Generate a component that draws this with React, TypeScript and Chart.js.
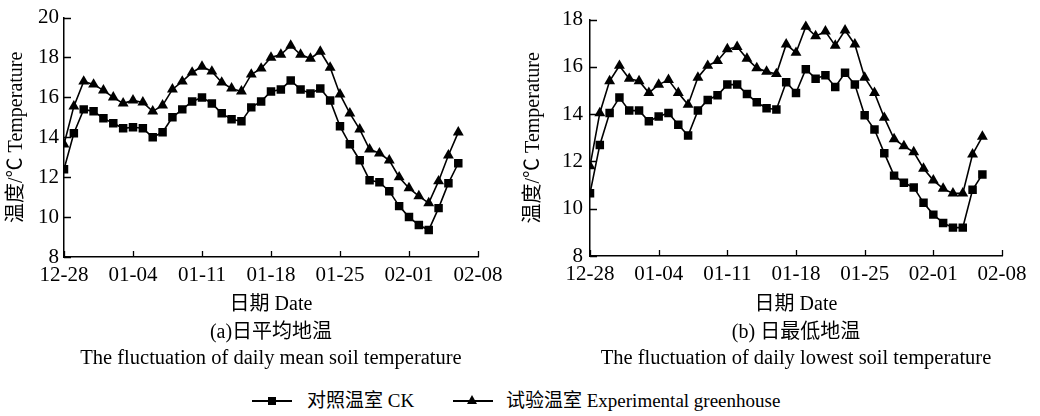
import React, { useEffect, useRef } from "react";
import { Chart, registerables } from "chart.js";

Chart.register(...registerables);

// ---------- data ----------
const DATES = [
  "12-28", "12-29", "12-30", "12-31",
  "01-01", "01-02", "01-03", "01-04", "01-05", "01-06", "01-07", "01-08", "01-09", "01-10",
  "01-11", "01-12", "01-13", "01-14", "01-15", "01-16", "01-17", "01-18", "01-19", "01-20",
  "01-21", "01-22", "01-23", "01-24", "01-25", "01-26", "01-27", "01-28", "01-29", "01-30",
  "01-31", "02-01", "02-02", "02-03", "02-04", "02-05", "02-06",
];
const TICK_LABELS = ["12-28", "01-04", "01-11", "01-18", "01-25", "02-01", "02-08"];

const MEAN_CK = [
  12.4, 14.2, 15.4, 15.3, 14.95, 14.7, 14.45, 14.5, 14.45, 14.0,
  14.25, 15.0, 15.4, 15.8, 16.0, 15.7, 15.2, 14.9, 14.8, 15.5,
  15.8, 16.3, 16.4, 16.85, 16.4, 16.2, 16.45, 15.85, 14.55, 13.65,
  12.85, 11.85, 11.75, 11.3, 10.55, 10.0, 9.6, 9.35, 10.45, 11.7,
  12.7,
];
const MEAN_EXP = [
  13.65, 15.55, 16.8, 16.65, 16.35, 16.0, 15.7, 15.85, 15.75, 15.3,
  15.6, 16.4, 16.8, 17.25, 17.55, 17.3, 16.75, 16.45, 16.3, 17.15,
  17.45, 18.0, 18.15, 18.6, 18.15, 17.95, 18.3, 17.5, 16.15, 15.2,
  14.4, 13.4, 13.2, 12.85, 12.0, 11.45, 11.05, 10.7, 11.8, 13.1,
  14.25,
];
const LOW_CK = [
  10.65, 12.7, 14.05, 14.7, 14.15, 14.15, 13.7, 13.9, 14.05, 13.55,
  13.1, 14.15, 14.6, 14.8, 15.25, 15.25, 14.85, 14.5, 14.25, 14.2,
  15.35, 14.9, 15.9, 15.5, 15.65, 15.15, 15.75, 15.25, 13.95, 13.35,
  12.35, 11.4, 11.1, 10.9, 10.25, 9.75, 9.4, 9.2, 9.2, 10.8,
  11.45,
];
const LOW_EXP = [
  11.8, 14.05, 15.4, 16.05, 15.5, 15.4, 14.9, 15.25, 15.45, 14.9,
  14.4, 15.55, 16.05, 16.25, 16.75, 16.85, 16.35, 15.95, 15.8, 15.7,
  16.95, 16.6, 17.7, 17.3, 17.5, 16.9, 17.55, 16.95, 15.55, 14.9,
  13.85, 12.95, 12.65, 12.4, 11.7, 11.2, 10.85, 10.65, 10.65, 12.3,
  13.05,
];

const SERIES_NAMES = ["对照温室 CK", "试验温室 Experimental greenhouse"];
const Y_TITLE = "温度/℃ Temperature";
const X_TITLE = "日期 Date";
const CAPTION_A = ["(a)日平均地温", "The fluctuation of daily mean soil temperature"];
const CAPTION_B = ["(b) 日最低地温", "The fluctuation of daily lowest soil temperature"];

const FONT = "'Liberation Serif', 'Noto Sans CJK SC', serif";

// ---------- inward tick marks ----------
const inwardTicks = {
  id: "inwardTicks",
  beforeDatasetsDraw(chart: any) {
    const { ctx, chartArea, scales } = chart;
    ctx.save();
    ctx.strokeStyle = "#000";
    ctx.lineWidth = 1.3;
    ctx.beginPath();
    scales.x.ticks.forEach((t: any) => {
      const px = Math.round(scales.x.getPixelForValue(t.value)) + 0.5;
      ctx.moveTo(px, chartArea.bottom);
      ctx.lineTo(px, chartArea.bottom - 6);
    });
    scales.y.ticks.forEach((t: any) => {
      const py = Math.round(scales.y.getPixelForValue(t.value)) + 0.5;
      ctx.moveTo(chartArea.left, py);
      ctx.lineTo(chartArea.left + 7, py);
    });
    ctx.stroke();
    ctx.restore();
  },
};

function makeConfig(
  ck: number[],
  exp: number[],
  yMax: number,
  yWidth: number,
  padRight: number,
  padTop: number,
  yTickPad: number,
  yTitlePad: number,
  xHeight: number
): any {
  const pts = (arr: number[]) => arr.map((v, i) => ({ x: DATES.indexOf(DATES[i]), y: v }));
  return {
    type: "line",
    data: {
      datasets: [
        {
          label: SERIES_NAMES[0],
          data: pts(ck),
          borderColor: "#000",
          backgroundColor: "#000",
          borderWidth: 1.6,
          pointStyle: "rect",
          pointRadius: 6,
          pointBorderWidth: 0,
          pointBackgroundColor: "#000",
          tension: 0,
        },
        {
          label: SERIES_NAMES[1],
          data: pts(exp),
          borderColor: "#000",
          backgroundColor: "#000",
          borderWidth: 1.6,
          pointStyle: "triangle",
          pointRadius: 6.3,
          pointBorderWidth: 0,
          pointBackgroundColor: "#000",
          tension: 0,
        },
      ],
    },
    options: {
      responsive: false,
      animation: false,
      devicePixelRatio: 1,
      layout: { padding: { left: 0, right: padRight, top: padTop, bottom: 0 } },
      plugins: { legend: { display: false }, tooltip: { enabled: false } },
      scales: {
        x: {
          type: "linear",
          min: 0,
          max: 42,
          grid: { display: false, drawTicks: false },
          border: { display: true, color: "#000", width: 1.5 },
          ticks: {
            stepSize: 7,
            autoSkip: false,
            maxRotation: 0,
            padding: 6,
            color: "#000",
            font: { family: FONT, size: 21 },
            callback: (v: number) => TICK_LABELS[Math.round(v / 7)] ?? "",
          },
          title: {
            display: true,
            text: X_TITLE,
            color: "#000",
            font: { family: FONT, size: 20 },
            padding: { top: 0, bottom: 1 },
          },
          afterFit: (s: any) => {
            s.height = xHeight;
          },
        },
        y: {
          min: 8,
          max: yMax,
          grid: { display: false, drawTicks: false },
          border: { display: true, color: "#000", width: 1.5 },
          ticks: {
            stepSize: 2,
            padding: yTickPad,
            color: "#000",
            font: { family: FONT, size: 21 },
          },
          title: {
            display: true,
            text: Y_TITLE,
            color: "#000",
            font: { family: FONT, size: 20 },
            padding: { top: yTitlePad, bottom: 0 },
          },
          afterFit: (s: any) => {
            s.width = yWidth;
          },
        },
      },
    },
    plugins: [inwardTicks],
  };
}

function Panel(props: { left: number; config: any }) {
  const ref = useRef<HTMLCanvasElement | null>(null);
  useEffect(() => {
    if (!ref.current) return;
    const chart = new Chart(ref.current, props.config);
    return () => chart.destroy();
  }, []);
  return (
    <canvas
      ref={ref}
      width={520}
      height={318}
      style={{ position: "absolute", left: props.left, top: 0, width: 520, height: 318, display: "block" }}
    />
  );
}

function TextLine(props: { text: string; cx: number; cy: number; size: number }) {
  return (
    <div
      style={{
        position: "absolute",
        left: props.cx - 300,
        width: 600,
        top: props.cy - 15,
        height: 30,
        lineHeight: "30px",
        textAlign: "center",
        fontFamily: FONT,
        fontSize: props.size,
        color: "#000",
        whiteSpace: "nowrap",
      }}
    >
      {props.text}
    </div>
  );
}

export default function App() {
  const cfgA = makeConfig(MEAN_CK, MEAN_EXP, 20, 64, 42, 16, 5, 4.5, 61);
  const cfgB = makeConfig(LOW_CK, LOW_EXP, 18, 70, 38, 15, 7, 1.5, 62);
  const legendY = 401;
  return (
    <div
      style={{
        position: "fixed",
        left: 0,
        top: 0,
        width: 1040,
        height: 416,
        background: "#fff",
        overflow: "hidden",
      }}
    >
      <Panel left={0} config={cfgA} />
      <Panel left={520} config={cfgB} />

      <TextLine text={CAPTION_A[0]} cx={271} cy={331} size={20} />
      <TextLine text={CAPTION_A[1]} cx={271} cy={357} size={20.5} />
      <TextLine text={CAPTION_B[0]} cx={796} cy={331} size={20} />
      <TextLine text={CAPTION_B[1]} cx={796} cy={357} size={20.5} />

      {/* legend item 1 */}
      <div style={{ position: "absolute", left: 252, top: legendY - 1, width: 40, height: 2, background: "#000" }} />
      <div style={{ position: "absolute", left: 268, top: legendY - 4, width: 8, height: 8, background: "#000" }} />
      <div
        style={{
          position: "absolute",
          left: 307,
          top: legendY - 15,
          height: 30,
          lineHeight: "30px",
          fontFamily: FONT,
          fontSize: 19,
          whiteSpace: "nowrap",
          color: "#000",
        }}
      >
        {SERIES_NAMES[0]}
      </div>

      {/* legend item 2 */}
      <div style={{ position: "absolute", left: 453, top: legendY - 1, width: 40, height: 2, background: "#000" }} />
      <div
        style={{
          position: "absolute",
          left: 467,
          top: legendY - 6,
          width: 0,
          height: 0,
          borderLeft: "5.5px solid transparent",
          borderRight: "5.5px solid transparent",
          borderBottom: "9px solid #000",
        }}
      />
      <div
        style={{
          position: "absolute",
          left: 506,
          top: legendY - 15,
          height: 30,
          lineHeight: "30px",
          fontFamily: FONT,
          fontSize: 19,
          whiteSpace: "nowrap",
          color: "#000",
        }}
      >
        {SERIES_NAMES[1]}
      </div>
    </div>
  );
}
